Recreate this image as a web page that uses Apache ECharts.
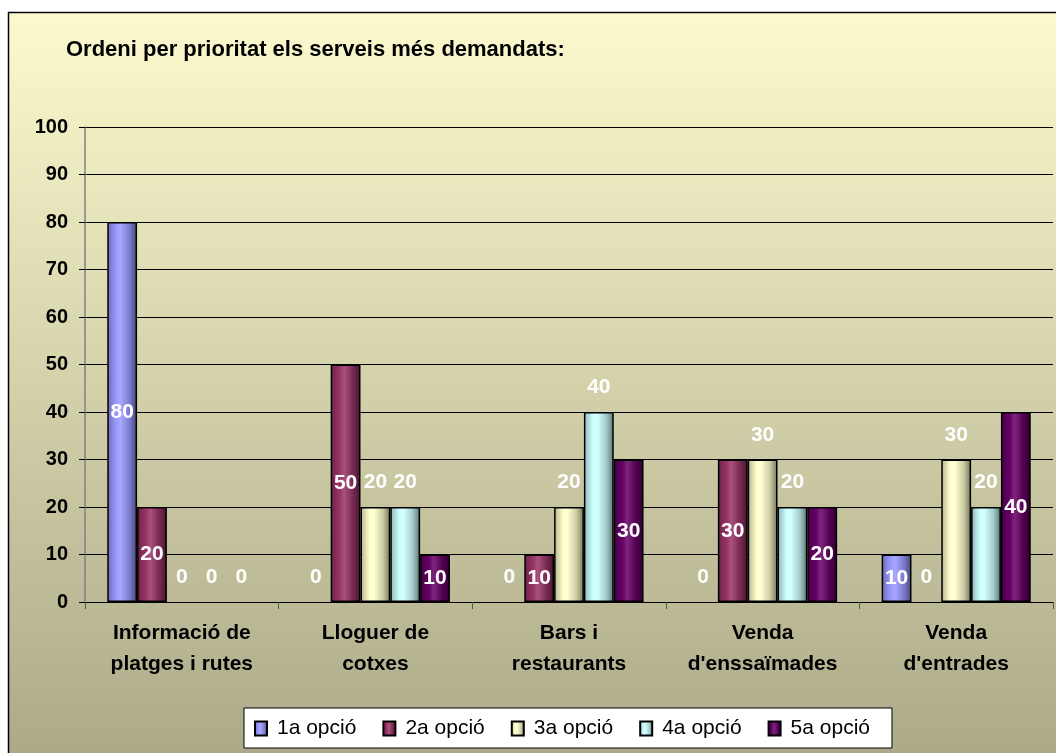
<!DOCTYPE html>
<html>
<head>
<meta charset="utf-8">
<script src="https://cdn.jsdelivr.net/npm/echarts@6/dist/echarts.min.js"></script>
<style>
  html, body { margin: 0; padding: 0; background: #ffffff; }
  #container { width: 1056px; height: 753px; }
</style>
</head>
<body>
<div id="container"></div>
<script>
var categories = ['Informació de\nplatges i rutes', 'Lloguer de\ncotxes', 'Bars i\nrestaurants', 'Venda\nd\'enssaïmades', 'Venda\nd\'entrades'];
var seriesNames = ['1a opció', '2a opció', '3a opció', '4a opció', '5a opció'];
var opcio1 = [80, 0, 0, 0, 10];
var opcio2 = [20, 50, 10, 30, 0];
var opcio3 = [0, 20, 20, 30, 30];
var opcio4 = [0, 20, 40, 20, 20];
var opcio5 = [0, 10, 30, 20, 40];
var yMin = 0, yMax = 100, yStep = 10;

var dom = document.getElementById("container");
var myChart = echarts.init(dom);

// aclarir / enfosquir un color hex
function shade(hex, f) {
    var n = parseInt(hex.slice(1), 16);
    var r = (n >> 16) & 255, g = (n >> 8) & 255, b = n & 255;
    function c(v) {
        v = f < 0 ? v * (1 + f) : v + (255 - v) * f;
        return Math.max(0, Math.min(255, Math.round(v)));
    }
    return 'rgb(' + c(r) + ',' + c(g) + ',' + c(b) + ')';
}
function cylinder(hex) {
    return new echarts.graphic.LinearGradient(0, 0, 1, 0, [
        {offset: 0, color: shade(hex, -0.3)},
        {offset: 0.3, color: hex},
        {offset: 0.45, color: shade(hex, 0.15)},
        {offset: 0.75, color: shade(hex, -0.2)},
        {offset: 1, color: shade(hex, -0.55)}
    ]);
}

var colors = ['#9999FF', '#993366', '#FFFFCC', '#CCFFFF', '#660066'];
var labelOnTop = [false, false, true, true, false];
var values = [opcio1, opcio2, opcio3, opcio4, opcio5];

var labelStyle = {
    show: true,
    color: '#ffffff',
    fontFamily: 'Liberation Sans, Arial, sans-serif',
    fontWeight: 'bold',
    fontSize: 21
};

var series = values.map(function (vals, i) {
    return {
        name: seriesNames[i],
        type: 'bar',
        barGap: '0%',
        barCategoryGap: '23%',
        itemStyle: {
            color: cylinder(colors[i]),
            borderColor: '#000000',
            borderWidth: 1.5
        },
        label: Object.assign({}, labelStyle, {
            position: labelOnTop[i] ? 'top' : 'inside',
            distance: 14
        }),
        data: vals.map(function (v) {
            // les barres a zero no es veuen, l'etiqueta va a sobre
            if (v === 0) {
                return {value: v, itemStyle: {borderWidth: 0}, label: {position: 'top', distance: 14}};
            }
            return v;
        })
    };
});

var option = {
    backgroundColor: '#ffffff',
    animation: false,
    graphic: {
        elements: [{
            type: 'rect',
            z: -100,
            silent: true,
            shape: {x: 8.5, y: 12.5, width: 1100, height: 800},
            style: {
                fill: new echarts.graphic.LinearGradient(0, 0, 0, 1, [
                    {offset: 0, color: '#FCFACD'},
                    {offset: 1, color: '#A5A383'}
                ]),
                stroke: '#000000',
                lineWidth: 1.5
            }
        }]
    },
    title: {
        text: 'Ordeni per prioritat els serveis més demandats:',
        left: 61,
        top: 34,
        textStyle: {
            color: '#000000',
            fontFamily: 'Liberation Sans, Arial, sans-serif',
            fontWeight: 'bold',
            fontSize: 22
        }
    },
    legend: {
        data: seriesNames,
        left: 244,
        top: 708,
        orient: 'horizontal',
        backgroundColor: '#ffffff',
        borderColor: '#000000',
        borderWidth: 1,
        borderRadius: 0,
        padding: [10, 22, 9, 10],
        itemWidth: 12,
        itemHeight: 14,
        itemGap: 26,
        icon: 'rect',
        textStyle: {
            color: '#000000',
            fontFamily: 'Liberation Sans, Arial, sans-serif',
            fontSize: 21,
            padding: [0, 0, 0, 5]
        }
    },
    grid: {
        left: 85,
        top: 127,
        width: 968,
        height: 475,
        containLabel: false
    },
    xAxis: {
        type: 'category',
        data: categories,
        axisLine: {show: true, lineStyle: {color: '#000000', width: 1}},
        axisTick: {show: true, length: 7, lineStyle: {color: '#555555'}},
        axisLabel: {
            interval: 0,
            margin: 16,
            color: '#000000',
            fontFamily: 'Liberation Sans, Arial, sans-serif',
            fontWeight: 'bold',
            fontSize: 21,
            lineHeight: 31
        }
    },
    yAxis: {
        type: 'value',
        min: yMin,
        max: yMax,
        interval: yStep,
        axisLine: {show: true, lineStyle: {color: '#808080', width: 1.5}},
        axisTick: {show: true, length: 6, lineStyle: {color: '#000000'}},
        splitLine: {show: true, lineStyle: {color: '#000000', width: 1}},
        axisLabel: {
            margin: 17,
            color: '#000000',
            fontFamily: 'Liberation Sans, Arial, sans-serif',
            fontWeight: 'bold',
            fontSize: 20
        }
    },
    series: series
};

myChart.setOption(option, true);
</script>
</body>
</html>
